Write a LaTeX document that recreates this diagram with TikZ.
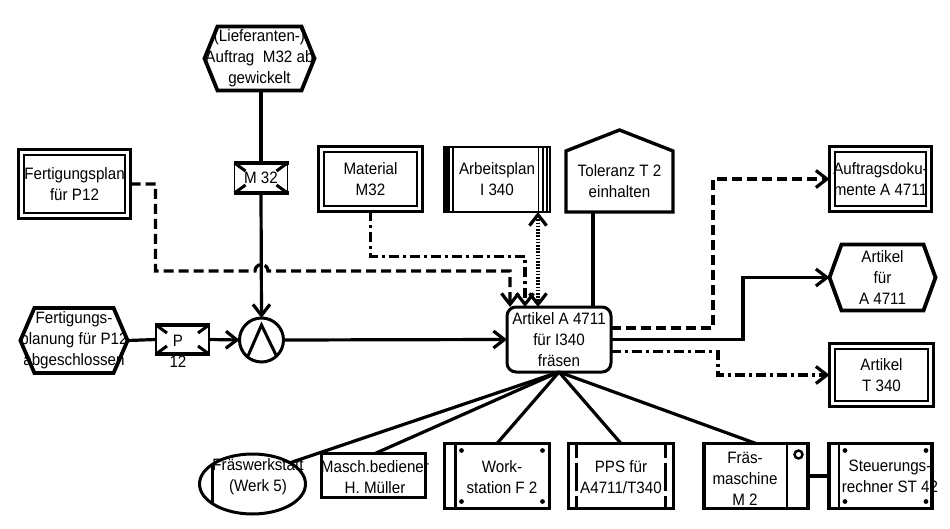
\documentclass[tikz,border=0pt]{standalone}
\usepackage{fontspec}
\setmainfont[FakeStretch=0.92]{Liberation Sans}
\usetikzlibrary{arrows.meta,shapes.geometric}

% hexagonal event frame around a rectangular node
\newcommand\hexframe[2]{%
  \draw[line width=3.8pt,line join=miter] (#1.west) -- ([xshift=#2]#1.north west)
    -- ([xshift=-#2]#1.north east) -- (#1.east) -- ([xshift=-#2]#1.south east)
    -- ([xshift=#2]#1.south west) -- cycle;}
% transport box: thin sides, heavy top and bottom, corner wedges
\newcommand\convframe[1]{%
  \draw[line width=1.8pt] (#1.north west) -- (#1.south west) (#1.north east) -- (#1.south east);
  \draw[line width=3.3pt] ([xshift=-1pt]#1.north west) -- ([xshift=1pt]#1.north east)
    ([xshift=-1pt]#1.south west) -- ([xshift=1pt]#1.south east);
  \draw[line width=3pt] (#1.north west) -- ++(11,8) (#1.north east) -- ++(-11,8)
    (#1.south west) -- ++(11,-8) (#1.south east) -- ++(-11,-8);}

\begin{document}
\begin{tikzpicture}[x=1pt,y=-1pt,
  every node/.style={inner sep=0pt,outer sep=0pt,align=center,
    font=\fontsize{16.5}{21}\selectfont},
  >={Straight Barb[length=11pt,width=17pt]},
  sz/.style 2 args={minimum width=#1pt,minimum height=#2pt},
  conn/.style={line width=3.2pt},
  dashedl/.style={conn,dash pattern=on 10pt off 5pt},
  dashdot/.style={conn,dash pattern=on 10pt off 4pt on 3pt off 4pt},
  dottedl/.style={conn,dash pattern=on 1.6pt off 1.6pt},
  sbox/.style={draw,rectangle,line width=3.4pt},
  dbox/.style={draw,rectangle,line width=3.8pt,
    path picture={\draw[line width=2pt]
      ([xshift=5.8pt,yshift=-5.8pt]path picture bounding box.north west) rectangle
      ([xshift=-5.8pt,yshift=5.8pt]path picture bounding box.south east);}},
  dot/.style={fill,circle,minimum size=4.8pt}
]
\path[fill=white,use as bounding box] (0,0) rectangle (950,529);

% ---- events ----
\node[sz={110}{64}] (lief) at (259.5,58.5) {(Lieferanten-)\\Auftrag\ \ M32 ab\\gewickelt};
\hexframe{lief}{13pt}
\node[sz={106}{65}] (fpl) at (74,340.5) {Fertigungs-\\planung für P12\\abgeschlossen};
\hexframe{fpl}{14pt}
\node[sz={106}{66}] (artA) at (882.5,277.5) {Artikel\\für\\A 4711};
\hexframe{artA}{12pt}

% ---- transport boxes ----
\node[sz={53}{30}] (m32) at (261,178) {M 32};
\convframe{m32}
\node[sz={53}{29}] (p12) at (182.5,339.5) {};
\convframe{p12}
\node (p12t) at (178,351.5) {P\hspace{6pt}\\12};

% ---- connector operator ----
\node[circle,draw,line width=3pt,minimum size=44pt] (op) at (261.5,340) {};
\draw[line width=3pt,line join=miter] ([xshift=-13.5pt,yshift=-16pt]op.center)
  -- ([yshift=15pt]op.center) -- ([xshift=14.5pt,yshift=-15pt]op.center);

% ---- information objects ----
\node[dbox,sz={112}{69}] (fplan) at (74.5,184) {Fertigungsplan\\für P12};
\node[dbox,sz={104}{65}] (mat) at (370.5,179) {Material\\M32};
\node[dbox,sz={102}{65}] (auf) at (880.5,179) {Auftragsdoku-\\mente A 4711};
\node[dbox,sz={104}{63}] (artT) at (881.5,375) {Artikel\\T 340};

\node[sbox,line width=2.4pt,sz={106}{65}] (arb) at (497,179.5) {Arbeitsplan\\I 340};
\fill ([xshift=-1pt,yshift=1pt]arb.north west) rectangle ([xshift=6pt,yshift=-1pt]arb.south west);
\draw[line width=1.6pt] ([xshift=9pt]arb.north west) -- ([xshift=9pt]arb.south west)
  ([xshift=-11.5pt]arb.north east) -- ([xshift=-11.5pt]arb.south east)
  ([xshift=-7pt]arb.north east) -- ([xshift=-7pt]arb.south east)
  ([xshift=-3pt]arb.north east) -- ([xshift=-3pt]arb.south east);

\node[sz={107}{61}] (tol) at (619.5,181.5) {Toleranz T 2\\einhalten};
\draw[line width=3.4pt,line join=miter] (tol.south west) -- (tol.north west)
  -- ([yshift=21pt]tol.north) -- (tol.north east) -- (tol.south east) -- cycle;

% ---- function ----
\node[draw,rounded corners=9pt,line width=3pt,sz={104}{65}] (art) at (559,339.5)
  {Artikel A 4711\\für I340\\fräsen};

% ---- resources ----
\node[ellipse,draw,line width=3pt,minimum width=106pt,minimum height=60pt] (fws) at (252.5,484) {};
\draw[line width=2.2pt] ([xshift=13pt,yshift=20pt]fws.west) -- ([xshift=13pt,yshift=-20pt]fws.west);
\node (fwst) at (258,476.7) {Fräswerkstatt\\(Werk 5)};

\node[sbox,sz={104}{44}] (masch) at (373.5,475.5) {};
\node (mascht) at (375,476.7) {Masch.bediener\\H. Müller};

\node[sbox,sz={105}{65}] (ws) at (497,476) {};
\draw[line width=2.2pt] ([xshift=11pt]ws.north west) -- ([xshift=11pt]ws.south west);
\node[dot] (ws1) at ([xshift=17pt,yshift=-7pt]ws.north west) {};
\node[dot] (ws2) at ([xshift=-7pt,yshift=-7pt]ws.north east) {};
\node[dot] (ws3) at ([xshift=17pt,yshift=7pt]ws.south west) {};
\node[dot] (ws4) at ([xshift=-7pt,yshift=7pt]ws.south east) {};
\node (wst) at (502,476.7) {Work-\\station F 2};

\node[sbox,sz={105}{65}] (pps) at (621,476) {};
\draw[line width=3pt,dash pattern=on 14pt off 5pt on 28pt off 5pt on 20pt]
  ([xshift=8pt]pps.north west) -- ([xshift=8pt]pps.south west)
  ([xshift=-8pt]pps.north east) -- ([xshift=-8pt]pps.south east);
\node (ppst) at (621,476.7) {PPS für\\A4711/T340};

\node[sbox,sz={104}{65}] (frs) at (756,476) {};
\draw[line width=2.2pt] ([xshift=-21pt]frs.north east) -- ([xshift=-21pt]frs.south east);
\node[circle,draw,line width=2.4pt,minimum size=8pt] (frsc) at (798.5,454.5) {};
\node (frst) at (745,478.5) {Fräs-\\maschine\\M 2};

\node[sbox,sz={103}{65}] (st) at (880.5,476) {};
\draw[line width=2.2pt] ([xshift=10pt]st.north west) -- ([xshift=10pt]st.south west);
\node[dot] (st1) at ([xshift=16pt,yshift=-7pt]st.north west) {};
\node[dot] (st2) at ([xshift=-6pt,yshift=-7pt]st.north east) {};
\node[dot] (st3) at ([xshift=16pt,yshift=7pt]st.south west) {};
\node[dot] (st4) at ([xshift=-6pt,yshift=7pt]st.south east) {};
\node (stt) at (890,476.7) {Steuerungs-\\rechner ST 42};

% ---- control flow ----
\draw[conn] (m32.north |- lief.south) -- (m32.north);
\draw[conn,->] (m32.south) -- (op.north);
\draw[conn] (fpl.east) -- (p12.west);
\draw[conn,->] (p12.east) -- (op.west);
\draw[conn,->] (op.east) -- (art.west);

% ---- information flow into the function ----
\draw[dashedl,->] (fplan.east) -- ++(25,0) |- (255,271)
  arc[start angle=180,end angle=0,radius=6.5pt] -| ([xshift=-49pt]art.north);
\draw[dashdot,->] (mat.south) -- ++(0,45) -| ([xshift=-34pt]art.north);
\draw[dottedl,<->] ([xshift=41pt]arb.south) -- ([xshift=-21pt]art.north);
\draw[conn] ([xshift=-26.5pt]tol.south) -- ([xshift=34pt]art.north);

% ---- outputs ----
\draw[dashedl,->] ([yshift=11.5pt]art.east) -- ++(102,0) |- (auf.west);
\draw[conn,->] (art.east) -- ++(132,0) |- (artA.west);
\draw[dashdot,->] ([yshift=-12pt]art.east) -- ++(107,0) |- (artT.west);

% ---- resource links ----
\draw[conn] (art.south) -- (fws.north east);
\draw[conn] (art.south) -- ([xshift=1.5pt]masch.north);
\draw[conn] (art.south) -- (ws.north);
\draw[conn] (art.south) -- (pps.north);
\draw[conn] (art.south) -- (frs.north);
\draw[conn] (frs.east) -- (st.west);
\end{tikzpicture}
\end{document}
